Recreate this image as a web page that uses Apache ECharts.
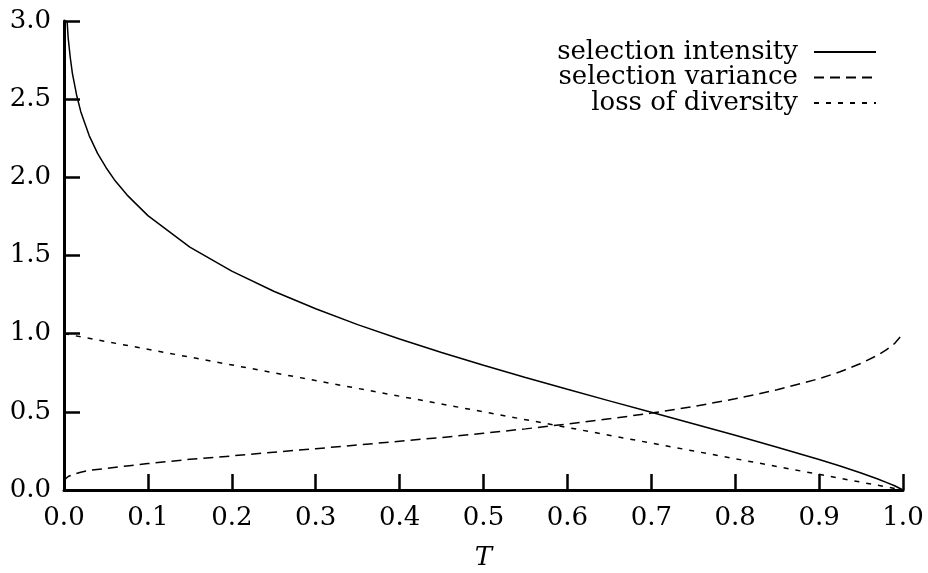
<!DOCTYPE html>
<html>
<head>
<meta charset="utf-8">
<script src="https://cdn.jsdelivr.net/npm/echarts@6/dist/echarts.min.js"></script>
<style>html,body{margin:0;padding:0;background:#fff}#c{width:928px;height:573px}</style>
</head>
<body>
<div id="c"></div>
<script>
// Data
const xTicks = [0.0, 0.1, 0.2, 0.3, 0.4, 0.5, 0.6, 0.7, 0.8, 0.9, 1.0];
const yTicks = [0.0, 0.5, 1.0, 1.5, 2.0, 2.5, 3.0];

const intensityT = [0.0037, 0.005, 0.0075, 0.01, 0.015, 0.02, 0.03, 0.04, 0.05, 0.06, 0.075, 0.1, 0.15, 0.2, 0.25, 0.3, 0.35, 0.4, 0.45, 0.5, 0.55, 0.6, 0.65, 0.7, 0.75, 0.8, 0.85, 0.9, 0.925, 0.95, 0.97, 0.98, 0.99, 1.0];
const intensityV = [3.0, 2.89, 2.765, 2.665, 2.527, 2.42, 2.267, 2.153, 2.063, 1.985, 1.888, 1.755, 1.554, 1.40, 1.271, 1.159, 1.058, 0.966, 0.88, 0.798, 0.72, 0.644, 0.57, 0.497, 0.424, 0.35, 0.274, 0.195, 0.153, 0.109, 0.07, 0.049, 0.027, 0.0];

const varianceT = [0.0, 0.001, 0.0025, 0.005, 0.01, 0.02, 0.03, 0.05, 0.075, 0.1, 0.15, 0.2, 0.25, 0.3, 0.35, 0.4, 0.45, 0.5, 0.55, 0.6, 0.65, 0.7, 0.75, 0.8, 0.85, 0.9, 0.925, 0.95, 0.97, 0.98, 0.99, 1.0];
const varianceV = [0.05, 0.067, 0.078, 0.086, 0.097, 0.114, 0.125, 0.138, 0.154, 0.169, 0.196, 0.218, 0.242, 0.264, 0.288, 0.312, 0.336, 0.363, 0.391, 0.422, 0.455, 0.492, 0.534, 0.583, 0.641, 0.712, 0.756, 0.81, 0.863, 0.896, 0.937, 1.0];

const lossT = [0.0, 0.5, 1.0];
const lossV = [1.0, 0.5, 0.0];

const seriesNames = ['selection intensity', 'selection variance', 'loss of diversity'];

const zip = (a, b) => a.map((x, i) => [x, b[i]]);
const FONT = 'DejaVu Serif';
const FSIZE = 26;

const chart = echarts.init(document.getElementById('c'), null, {renderer: 'canvas'});
chart.setOption({
  animation: false,
  backgroundColor: '#fff',
  grid: {left: 64, right: 25, top: 21, bottom: 83, containLabel: false, outerBoundsMode: 'none'},
  legend: {
    orient: 'vertical',
    align: 'right',
    right: 46,
    top: 34,
    itemWidth: 62,
    itemHeight: 14,
    itemGap: -0.5,
    selectedMode: false,
    data: seriesNames,
    itemStyle: {color: 'rgba(0,0,0,0)', borderWidth: 0, opacity: 0},
    textStyle: {fontFamily: FONT, fontSize: FSIZE, color: '#000', padding: [0, 11, 0, 0]}
  },
  xAxis: {
    type: 'value', min: 0, max: 1, interval: 0.1,
    name: 'T', nameLocation: 'middle', nameGap: 55,
    nameTextStyle: {fontFamily: FONT, fontSize: FSIZE, fontStyle: 'italic', color: '#000'},
    axisLine: {show: true, lineStyle: {color: '#000', width: 3}},
    axisTick: {show: true, inside: true, length: 16, lineStyle: {color: '#000', width: 2.5}},
    axisLabel: {fontFamily: FONT, fontSize: FSIZE, color: '#000', margin: 15, formatter: v => v.toFixed(1)},
    splitLine: {show: false}
  },
  yAxis: {
    type: 'value', min: 0, max: 3, interval: 0.5,
    axisLine: {show: true, lineStyle: {color: '#000', width: 3}},
    axisTick: {show: true, inside: true, length: 16, lineStyle: {color: '#000', width: 2.5}},
    axisLabel: {fontFamily: FONT, fontSize: FSIZE, color: '#000', margin: 13, formatter: v => v.toFixed(1)},
    splitLine: {show: false}
  },
  series: [
    {name: seriesNames[0], type: 'line', data: zip(intensityT, intensityV), symbol: 'none', showSymbol: false,
     lineStyle: {color: '#000', width: 1.5, type: 'solid'}, itemStyle: {color: '#000'}},
    {name: seriesNames[1], type: 'line', data: zip(varianceT, varianceV), symbol: 'none', showSymbol: false,
     lineStyle: {color: '#000', width: 1.5, type: [10, 6]}, itemStyle: {color: '#000'}},
    {name: seriesNames[2], type: 'line', data: zip(lossT, lossV), symbol: 'none', showSymbol: false,
     lineStyle: {color: '#000', width: 1.5, type: [5, 7]}, itemStyle: {color: '#000'}}
  ]
});
</script>
</body>
</html>
